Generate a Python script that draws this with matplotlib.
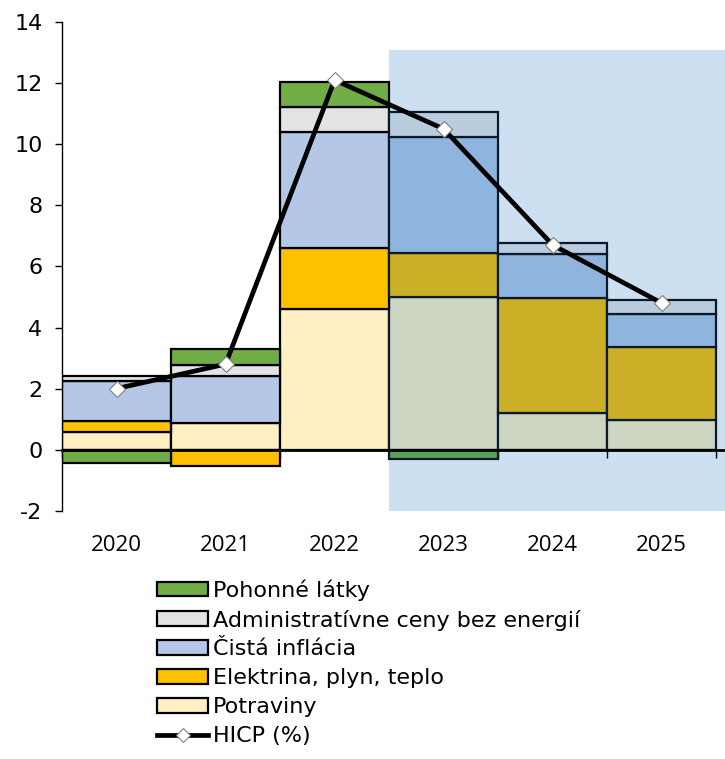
import matplotlib.pyplot as plt
import numpy as np
from matplotlib.lines import Line2D
from matplotlib.patches import Patch

plt.rcParams["font.family"] = ["DejaVu Sans"]
plt.rcParams["axes.unicode_minus"] = False

years = ["2020", "2021", "2022", "2023", "2024", "2025"]
forecast_from = 3  # index of the first projected year (2023)

# contributions to HICP inflation, p.p.
potraviny = [0.57, 0.86, 4.60, 5.00, 1.19, 0.97]
elektrina = [0.38, -0.52, 2.00, 1.45, 3.79, 2.40]
cista_inflacia = [1.30, 1.56, 3.79, 3.79, 1.44, 1.06]
admin_ceny = [0.17, 0.36, 0.83, 0.83, 0.36, 0.47]
pohonne_latky = [-0.42, 0.52, 0.82, -0.30, -0.02, -0.02]
hicp = [2.0, 2.8, 12.1, 10.5, 6.7, 4.8]

series = [
    ("Potraviny", potraviny, "#FFEFC2", "#CCD5C2"),
    ("Elektrina, plyn, teplo", elektrina, "#FFC000", "#CBB027"),
    ("Čistá inflácia", cista_inflacia, "#B4C7E7", "#8FB4DE"),
    ("Administratívne ceny bez energií", admin_ceny, "#E3E3E3", "#B9CDDF"),
    ("Pohonné látky", pohonne_latky, "#70AD47", "#5BA05A"),
]

fig = plt.figure(figsize=(7.25, 7.59), dpi=100)
ax = fig.add_axes([0.0855, 0.327, 0.9145, 0.644])

x = np.arange(len(years))
xmax = 5.58
ax.set_xlim(-0.5, xmax)
ax.set_ylim(-2, 14)

# projection period background
ax.fill_between([forecast_from - 0.5, xmax], -2, 13.1, color="#CCE0F1",
                lw=0, zorder=0)

pos_base = np.zeros(len(years))
neg_base = np.zeros(len(years))
for label, vals, col, col_fc in series:
    vals = np.array(vals)
    bottoms = np.where(vals >= 0, pos_base, neg_base)
    colors = [col if i < forecast_from else col_fc for i in x]
    edges = ["black" if i < forecast_from else "#0B1A2A" for i in x]
    ax.bar(x, vals, width=1.0, bottom=bottoms, color=colors,
           edgecolor=edges, linewidth=1.6, zorder=2)
    pos_base += np.where(vals >= 0, vals, 0)
    neg_base += np.where(vals < 0, vals, 0)

ax.plot(x, hicp, color="black", lw=3.4, marker="D", ms=8.5,
        mfc="white", mec="#7F7F7F", mew=0.8, zorder=4)

# axes styling
ax.spines["top"].set_visible(False)
ax.spines["right"].set_visible(False)
ax.spines["bottom"].set_position(("data", 0))
ax.spines["bottom"].set_linewidth(2.0)
ax.spines["bottom"].set_zorder(3)
ax.spines["left"].set_linewidth(1.0)

ax.set_yticks(np.arange(-2, 15, 2))
ax.tick_params(axis="y", direction="out", length=5, width=1.0,
               labelsize=16, pad=9)
ax.set_xticks(np.arange(-0.5, len(years), 1.0))
ax.tick_params(axis="x", direction="out", length=6, width=1.0,
               labelbottom=False)

for i, yr in enumerate(years):
    ax.text(i, -3.15, yr, ha="center", va="center",
            fontsize=16, family=["Open Sans", "DejaVu Sans"])

handles = [Patch(facecolor=col, edgecolor="black", linewidth=1.6, label=label)
           for label, _, col, _ in reversed(series)]
handles.append(Line2D([], [], color="black", lw=3.4, marker="D", ms=7,
                      mfc="white", mec="#7F7F7F", mew=0.8, label="HICP (%)"))
fig.legend(handles=handles, loc="upper left", bbox_to_anchor=(0.217, 0.237),
           frameon=False, fontsize=16, handlelength=2.3, handleheight=0.62,
           handletextpad=0.2, labelspacing=0.4, borderaxespad=0,
           borderpad=0)

fig.savefig("out.png", dpi=100)
